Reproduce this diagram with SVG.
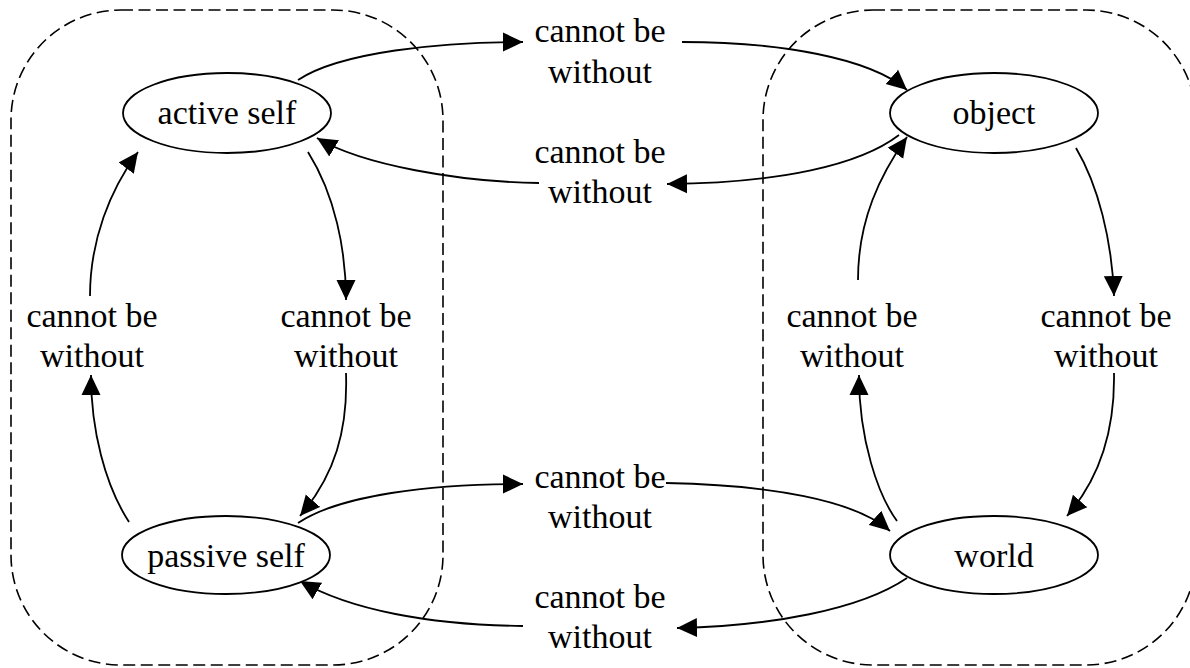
<svg xmlns="http://www.w3.org/2000/svg" width="1190" height="668" viewBox="0 0 1190 668">
<defs>
<style>
.cluster{fill:none;stroke:#000;stroke-width:1.6;stroke-dasharray:12,5.5}
.node ellipse{fill:#fff;stroke:#000;stroke-width:1.8}
text{font-family:"Liberation Serif","Times New Roman",serif;font-size:34px;fill:#000;text-anchor:middle}
.edge{fill:none;stroke:#000;stroke-width:1.8;marker-end:url(#arr)}
</style>
<marker id="arr" markerUnits="userSpaceOnUse" markerWidth="20" markerHeight="20" viewBox="0 0 20 20" refX="20" refY="10" orient="auto">
<path d="M0,0.5 L20,10 L0,19.5 z" fill="#000"/>
</marker>
</defs>
<rect width="1190" height="668" fill="#fff"/>
<g id="clusters">
<rect class="cluster" x="11" y="10" width="432" height="655" rx="110" ry="110"/>
<rect class="cluster" x="763" y="10" width="433" height="655" rx="110" ry="110"/>
</g>
<g id="connectors">
<path class="edge" d="M298,80 C340,52 440,42 523,42"/>
<path class="edge" d="M682,42 C780,42 870,58 907,90"/>
<path class="edge" d="M899,135 C860,165 780,183 667,184"/>
<path class="edge" d="M539,183 C460,182 362,165 317,138"/>
<path class="edge" d="M308,152 C335,195 346,250 346,300"/>
<path class="edge" d="M90,296 C90,240 110,190 138,152"/>
<path class="edge" d="M129,522 C105,485 91,430 91,375"/>
<path class="edge" d="M346,373 C348,430 335,475 300,516"/>
<path class="edge" d="M298,523 C340,495 430,484 523,484"/>
<path class="edge" d="M666,483 C770,485 855,500 890,531"/>
<path class="edge" d="M907,578 C860,610 770,626 677,628"/>
<path class="edge" d="M523,626 C430,625 350,610 300,581"/>
<path class="edge" d="M1076,148 C1098,185 1112,240 1114,296"/>
<path class="edge" d="M1114,373 C1115,430 1100,478 1067,516"/>
<path class="edge" d="M897,521 C878,495 859,440 859,375"/>
<path class="edge" d="M858,280 C858,220 880,175 907,137"/>
</g>
<g id="labels">
<text x="600" y="42">cannot be</text><text x="600" y="83">without</text>
<text x="600" y="163">cannot be</text><text x="600" y="203">without</text>
<text x="600" y="488">cannot be</text><text x="600" y="528">without</text>
<text x="600" y="608">cannot be</text><text x="600" y="648">without</text>
<text x="92" y="327">cannot be</text><text x="92" y="367">without</text>
<text x="346" y="327">cannot be</text><text x="346" y="367">without</text>
<text x="852" y="327">cannot be</text><text x="852" y="367">without</text>
<text x="1106" y="327">cannot be</text><text x="1106" y="367">without</text>
</g>
<g id="active_self" class="node"><ellipse cx="227" cy="113" rx="104" ry="40"/><text x="227" y="124">active self</text></g>
<g id="object" class="node"><ellipse cx="994" cy="113" rx="104" ry="40"/><text x="994" y="124">object</text></g>
<g id="passive_self" class="node"><ellipse cx="226" cy="555" rx="104" ry="39"/><text x="226" y="567">passive self</text></g>
<g id="world" class="node"><ellipse cx="994" cy="555" rx="104" ry="39"/><text x="994" y="567">world</text></g>
</svg>
